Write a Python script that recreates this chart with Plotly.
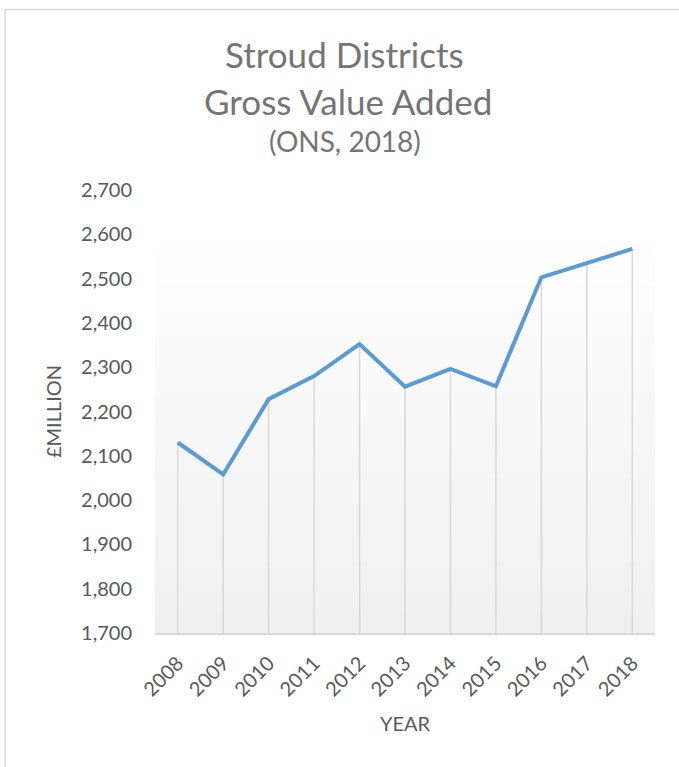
import plotly.graph_objects as go

years = ["2008", "2009", "2010", "2011", "2012", "2013", "2014", "2015", "2016", "2017", "2018"]
gva = [2130, 2058, 2228, 2280, 2352, 2256, 2296, 2257, 2503, 2535, 2567]
y_ticks = [1700, 1800, 1900, 2000, 2100, 2200, 2300, 2400, 2500, 2600, 2700]
y_min, y_max = 1700, 2700

W, H = 679, 767
L, R, T, B = 155, 24, 190, 134
PW, PH = W - L - R, H - T - B

def px(xp):
    return (xp - L) / PW

def py(yp):
    return (H - B - yp) / PH

fig = go.Figure()

# drop lines from each point to the axis
fig.add_trace(go.Scatter(
    x=years, y=gva, mode="lines", line=dict(width=0, color="rgba(0,0,0,0)"),
    error_y=dict(type="data", symmetric=False, array=[0] * len(gva),
                 arrayminus=[v - y_min for v in gva], color="#d9d9d9",
                 thickness=1.5, width=0),
    hoverinfo="skip", showlegend=False))

fig.add_trace(go.Scatter(
    x=years, y=gva, mode="lines", line=dict(color="#5b9bd5", width=4),
    showlegend=False))

shapes = []
# gradient background
n = 60
top = py(247)
for i in range(n):
    t = i / n
    c = int(round(240 + (254 - 240) * t))
    shapes.append(dict(type="rect", xref="paper", yref="paper", x0=0, x1=1,
                       y0=top * i / n, y1=top * (i + 1) / n + 0.002,
                       fillcolor=f"rgb({c},{c},{c})", line=dict(width=0),
                       layer="below"))
# chart border (top and left visible)
shapes.append(dict(type="line", xref="paper", yref="paper", x0=px(5), x1=px(5),
                   y0=py(H + 5), y1=py(9.5), line=dict(color="#d9d9d9", width=1.5)))
shapes.append(dict(type="line", xref="paper", yref="paper", x0=px(5), x1=px(W + 5),
                   y0=py(9.5), y1=py(9.5), line=dict(color="#d9d9d9", width=1.5)))

title_font = "Lato, 'Open Sans', sans-serif"
annotations = [
    dict(text="Stroud Districts", x=px(344), y=py(54), xref="paper", yref="paper",
         showarrow=False, xanchor="center", yanchor="middle",
         font=dict(family=title_font, size=35, color="#757575")),
    dict(text="Gross Value Added", x=px(348), y=py(101), xref="paper", yref="paper",
         showarrow=False, xanchor="center", yanchor="middle",
         font=dict(family=title_font, size=35, color="#757575")),
    dict(text="(ONS, 2018)", x=px(345), y=py(141), xref="paper", yref="paper",
         showarrow=False, xanchor="center", yanchor="middle",
         font=dict(family=title_font, size=28, color="#757575")),
]

fig.update_layout(
    width=W, height=H,
    margin=dict(l=L, r=R, t=T, b=B, pad=0),
    paper_bgcolor="white", plot_bgcolor="rgba(0,0,0,0)",
    font=dict(family=title_font, size=20, color="#595959"),
    shapes=shapes, annotations=annotations,
    xaxis=dict(type="category", range=[-0.5, len(years) - 0.5], showgrid=False,
               zeroline=False, showline=True, linecolor="#d9d9d9", linewidth=1.5,
               ticks="", tickangle=-45, ticklabelstandoff=9,
               tickfont=dict(size=20, color="#595959"),
               title=dict(text="YEAR", standoff=18, font=dict(size=20, color="#595959"))),
    yaxis=dict(range=[y_min, y_max], tickvals=y_ticks, tickformat=",d",
               showgrid=False, zeroline=False, showline=False, ticks="",
               ticklabelstandoff=22, tickfont=dict(size=20, color="#595959"),
               title=dict(text="£MILLION", standoff=14, font=dict(size=20, color="#595959"))),
)

fig.write_html("out.html", config={"displayModeBar": False},
               post_script="document.body.style.margin='0';")
